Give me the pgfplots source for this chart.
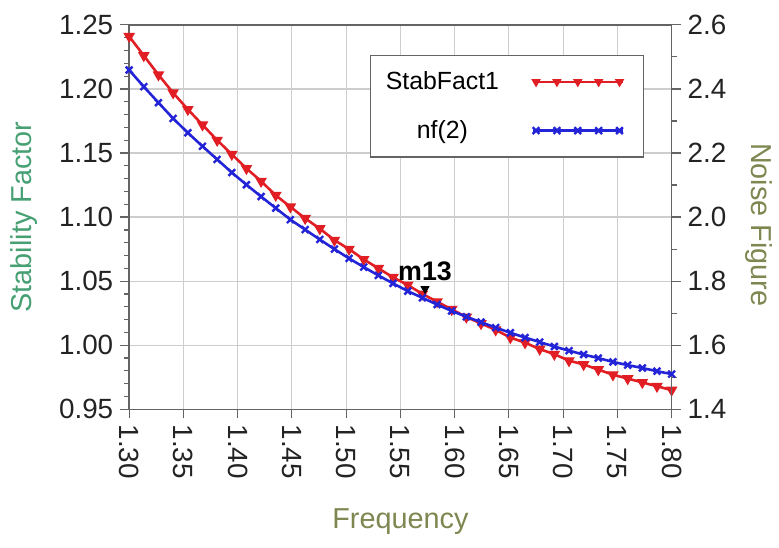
\documentclass[border=0pt]{standalone}
\usepackage{fontspec}
\setmainfont{Liberation Sans}
\usepackage{pgfplots}
\usepackage{pgfplotstable}
\pgfplotsset{compat=1.18}

\definecolor{sfred}{RGB}{225,30,35}
\definecolor{nfblue}{RGB}{35,35,215}
\definecolor{sfgreen}{RGB}{70,160,115}
\definecolor{nfolive}{RGB}{125,135,80}
\definecolor{gridgray}{RGB}{205,205,205}
\definecolor{framegray}{RGB}{100,100,100}
\definecolor{ticktext}{RGB}{35,35,35}

% frequency sweep, stability factor, noise figure
\pgfplotstableread{
f      sf     nf
1.3000 1.241  2.459
1.3135 1.226  2.407
1.3270 1.211  2.357
1.3405 1.197  2.308
1.3541 1.184  2.263
1.3676 1.172  2.221
1.3811 1.160  2.180
1.3946 1.149  2.139
1.4081 1.138  2.101
1.4216 1.128  2.064
1.4351 1.117  2.028
1.4486 1.108  1.992
1.4622 1.099  1.961
1.4757 1.091  1.930
1.4892 1.082  1.900
1.5027 1.075  1.871
1.5162 1.067  1.844
1.5297 1.060  1.818
1.5432 1.053  1.793
1.5568 1.047  1.769
1.5703 1.040  1.748
1.5838 1.034  1.727
1.5973 1.028  1.707
1.6108 1.022  1.689
1.6243 1.017  1.672
1.6378 1.012  1.655
1.6514 1.006  1.639
1.6649 1.002  1.624
1.6784 0.997  1.610
1.6919 0.993  1.596
1.7054 0.988  1.583
1.7189 0.985  1.571
1.7324 0.981  1.560
1.7459 0.977  1.548
1.7595 0.974  1.538
1.7730 0.971  1.529
1.7865 0.968  1.519
1.8000 0.965  1.510
}\datatable

\pgfplotsset{
  sfstyle/.style={sfred, line width=1.3pt, mark=triangle*, mark size=2.8pt,
    mark options={rotate=180, fill=sfred, solid, line width=0.6pt}},
  nfstyle/.style={nfblue, line width=1.3pt, mark=x, mark size=2.4pt,
    mark options={line width=1.2pt, solid}},
  every axis/.append style={
    scale only axis, width=273pt, height=193.5pt,
    xmin=1.30, xmax=1.80,
    font=\fontsize{14}{16}\selectfont,
    tick align=outside,
    axis line style={framegray, line width=0.8pt},
    tick style={framegray, line width=0.6pt},
    major tick length=4.5pt, minor tick length=2.5pt,
    tick label style={ticktext},
    /pgf/number format/assume math mode=true,
  },
}

\begin{document}
\begin{tikzpicture}
\begin{axis}[
  name=main,
  ymin=0.95, ymax=1.25,
  xtick={1.30,1.35,...,1.801}, ytick={0.95,1.00,...,1.251},
  minor y tick num=4,
  xtick pos=bottom, ytick pos=left,
  grid=major, major grid style={gridgray, line width=0.6pt},
  xticklabel style={rotate=-90, anchor=west, inner sep=3pt,
    /pgf/number format/.cd, fixed, fixed zerofill, precision=2},
  yticklabel style={/pgf/number format/.cd, fixed, fixed zerofill, precision=2},
  xlabel={Frequency}, ylabel={Stability Factor},
  xlabel style={nfolive, font=\fontsize{14.5}{16}\selectfont,
    at={(axis description cs:0.5,-0.292)}, anchor=center},
  ylabel style={sfgreen, font=\fontsize{14.5}{16}\selectfont,
    at={(axis description cs:-0.194,0.5)}, anchor=center},
]
\addplot[sfstyle] table[x=f, y=sf] {\datatable};
\addplot[only marks, mark=triangle*, mark size=2.3pt, black,
  mark options={rotate=180}] coordinates {(1.5727,1.044)}
  node[anchor=south, yshift=0.5pt, font=\fontsize{13.5}{15}\bfseries] {m13};
\end{axis}

\begin{axis}[
  ymin=1.4, ymax=2.6,
  ytick={1.4,1.6,...,2.61}, minor y tick num=1,
  axis x line=none, axis y line*=right, ytick pos=right,
  yticklabel style={/pgf/number format/.cd, fixed, fixed zerofill, precision=1},
  ylabel={Noise Figure},
  ylabel style={nfolive, rotate=180, font=\fontsize{14.5}{16}\selectfont,
    at={(axis description cs:1.161,0.48)}, anchor=center},
  legend plot pos=right, legend cell align=center,
  legend image code/.code={
    \draw[#1, mark=none] (0pt,0pt) -- (45pt,0pt);
    \draw[#1] plot coordinates {(1.5pt,0pt) (12pt,0pt) (22.5pt,0pt) (33pt,0pt) (43.5pt,0pt)};
    \path[draw=none] (0pt,0pt) -- (50pt,0pt);
  },
  legend style={at={(0.949,0.922)}, anchor=north east,
    draw=framegray, fill=white, line width=0.6pt,
    inner xsep=5.5pt, inner ysep=6pt, row sep=10pt,
    nodes={inner sep=2pt},
    font=\fontsize{12.5}{14}\selectfont,
    /tikz/every odd column/.append style={column sep=14.5pt}},
]
\addlegendimage{sfstyle, mark size=2.2pt}
\addlegendentry{StabFact1}
\addplot[nfstyle] table[x=f, y=nf] {\datatable};
\addlegendentry{nf(2)}
\end{axis}
% page frame with the same margins as the reference
\path (main.south west) ++(-65pt,-69.5pt) rectangle ++(389.5pt,275.5pt);
\end{tikzpicture}
\end{document}
